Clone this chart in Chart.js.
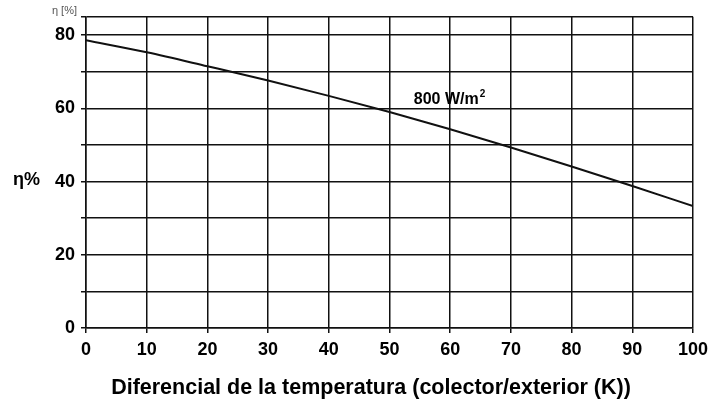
<!DOCTYPE html>
<html>
<head>
<meta charset="utf-8">
<script src="https://cdn.jsdelivr.net/npm/chart.js@4"></script>
<style>
  body { margin: 0; background: #fff; }
  #wrap { width: 724px; height: 402px; }
</style>
</head>
<body>
<div id="wrap"><canvas id="my-chart" width="724" height="402"></canvas></div>
<script>
// curve (efficiency vs temperature difference)
const tempDiff = [0, 10, 20, 30, 40, 50, 60, 70, 80, 90, 100];
const efficiency = [78.6, 75.3, 71.5, 67.6, 63.4, 59.0, 54.3, 49.3, 44.1, 38.8, 33.3];
const yGridValues = [0, 10, 20, 30, 40, 50, 60, 70, 80, 85];
const yLabelValues = [0, 20, 40, 60, 80];
const curveLabel = "800 W/m²";
const xTitle = "Diferencial de la temperatura (colector/exterior (K))";

const font = "'Liberation Sans', Arial, sans-serif";

const textPlugin = {
  id: "texts",
  afterDraw(chart) {
    const ctx = chart.ctx;
    const x = chart.scales.x;
    const y = chart.scales.y;
    ctx.save();
    ctx.fillStyle = "#000";
    // curve label
    const lx = x.getPixelForValue(54);
    const ly = y.getPixelForValue(61.3);
    ctx.font = "bold 16px " + font;
    ctx.textAlign = "left";
    ctx.textBaseline = "alphabetic";
    ctx.fillText("800 W/m", lx, ly);
    const w = ctx.measureText("800 W/m").width;
    ctx.font = "bold 10px " + font;
    ctx.fillText("2", lx + w + 1, ly - 7);
    // axis names
    ctx.font = "bold 18px " + font;
    ctx.textBaseline = "middle";
    ctx.fillText("η%", 13, y.getPixelForValue(40) - 2);
    ctx.font = "bold 21.5px " + font;
    ctx.textAlign = "center";
    ctx.textBaseline = "alphabetic";
    ctx.fillText(xTitle, 371, 394);
    ctx.font = "11px " + font;
    ctx.fillStyle = "#555";
    ctx.textAlign = "right";
    ctx.fillText("η [%]", 77, 14);
    ctx.restore();
  }
};

const ctx = document.getElementById("my-chart").getContext("2d");
const chart = new Chart(ctx, {
  type: "line",
  data: {
    datasets: [
      {
        label: curveLabel,
        data: tempDiff.map((t, i) => ({ x: t, y: efficiency[i] })),
        borderColor: "#111",
        borderWidth: 2,
        pointRadius: 0,
        cubicInterpolationMode: "monotone",
        fill: false,
      },
    ],
  },
  options: {
    responsive: false,
    animation: false,
    layout: { padding: { top: 15, right: 31, left: 0, bottom: 0 } },
    plugins: { legend: { display: false }, tooltip: { enabled: false } },
    scales: {
      x: {
        type: "linear",
        min: 0,
        max: 100,
        afterFit(scale) { scale.height = 74; },
        ticks: {
          stepSize: 10,
          color: "#000",
          padding: 6,
          font: { family: font, size: 18, weight: "bold" },
          maxRotation: 0,
        },
        grid: { color: "#111", lineWidth: 1.5, tickLength: 5 },
        border: { color: "#111", width: 1.5 },
      },
      y: {
        min: 0,
        max: 85,
        afterFit(scale) { scale.width = 86; },
        afterBuildTicks(scale) {
          scale.ticks = yGridValues.map((v) => ({ value: v }));
        },
        ticks: {
          color: "#000",
          padding: 6,
          font: { family: font, size: 18, weight: "bold" },
          callback: (v) => (yLabelValues.includes(v) ? v : ""),
        },
        grid: { color: "#111", lineWidth: 1.5, tickLength: 5 },
        border: { color: "#111", width: 1.5 },
      },
    },
  },
  plugins: [textPlugin],
});
</script>
</body>
</html>
